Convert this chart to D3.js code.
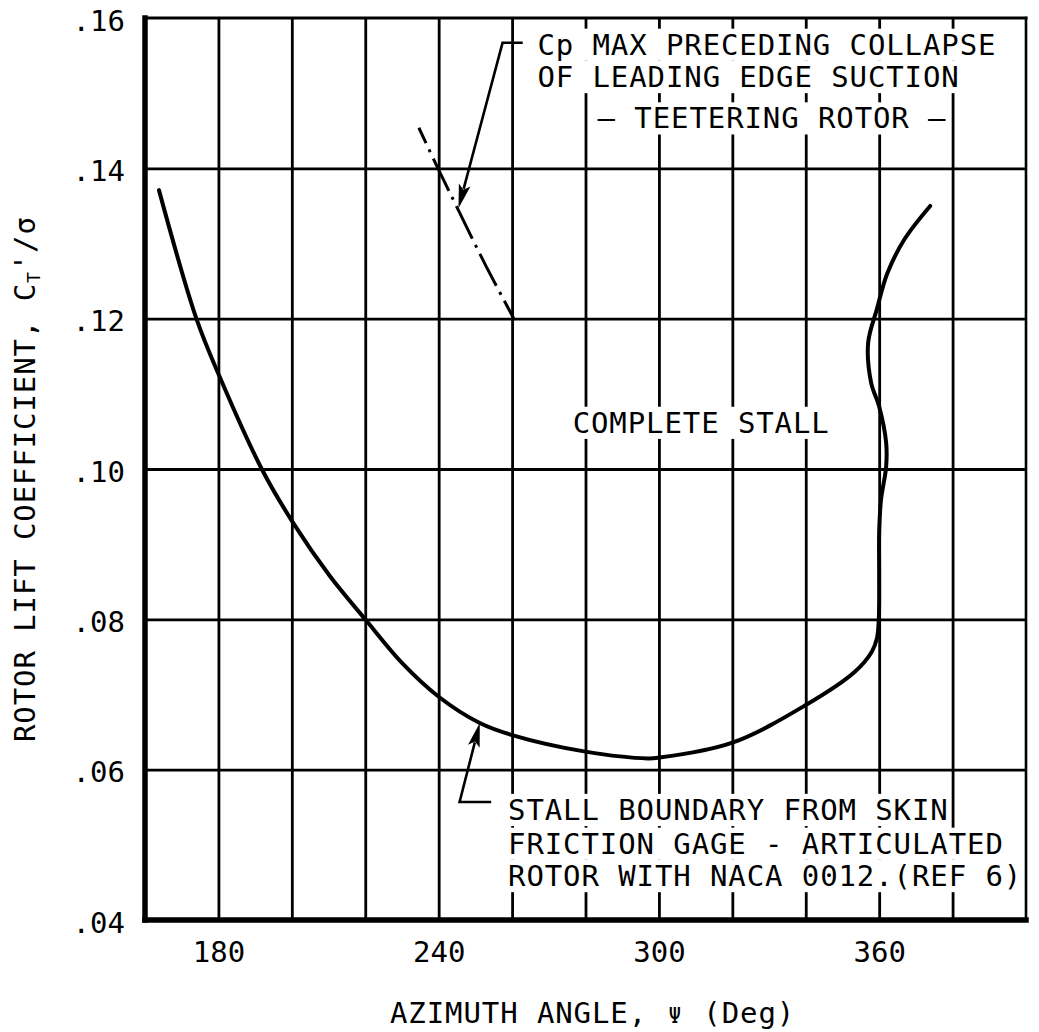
<!DOCTYPE html>
<html>
<head>
<meta charset="utf-8">
<script src="https://cdn.jsdelivr.net/npm/d3@7"></script>
<style>
  body { margin: 0; background: #fff; }
  svg text { font-family: "DejaVu Sans Mono", monospace; fill: #000; }
</style>
</head>
<body>
<svg id="chart" width="1039" height="1032"></svg>
<script>
// ---- data -------------------------------------------------------------
// Azimuth (deg): labelled ticks and grid lines
const azimuthTicks = [180, 240, 300, 360];
const azimuthGrid = [180, 200, 220, 240, 260, 280, 300, 320, 340, 360, 380];
// Rotor lift coefficient CT'/sigma: labelled ticks / grid lines
const liftTicks = [0.04, 0.06, 0.08, 0.10, 0.12, 0.14, 0.16];

// Stall boundary from skin friction gage, articulated rotor, NACA 0012 (ref 6)
const stallPsi = [163.8, 174.0, 180.4, 191.8, 200.4, 210.3, 220.0, 230.0, 240.0, 251.2, 260.0,
                  280.0, 297.0, 300.0, 320.0, 340.0, 353.3, 358.0, 359.4, 359.9, 360.0, 360.0,
                  360.5, 361.9, 361.9, 360.0, 357.8, 357.0, 359.4, 362.2, 366.8, 373.9];
const stallCt  = [0.1371, 0.1200, 0.1122, 0.1000, 0.0928, 0.0858, 0.0800, 0.0742, 0.0697, 0.0662, 0.0646,
                  0.0624, 0.0615, 0.0616, 0.0636, 0.0686, 0.0730, 0.0757, 0.0775, 0.0800, 0.0860, 0.0915,
                  0.0959, 0.1003, 0.1035, 0.1083, 0.1115, 0.1168, 0.1213, 0.1260, 0.1305, 0.1350];

// Cp max preceding collapse of leading edge suction, teetering rotor
const cpPsi = [234.6, 239.8, 245.3, 253.0, 260.7];
const cpCt  = [0.1454, 0.1400, 0.1345, 0.1269, 0.1198];

// Annotation leaders (psi, CT'/sigma): tail tick, elbow, arrow tip
const cpLeader    = [[262.9, 0.1567], [257.4, 0.1567], [245.4, 0.1347]];
const stallLeader = [[254.3, 0.0557], [245.7, 0.0557], [251.2, 0.0662]];

// Text notes: [psi, CT'/sigma at baseline, text]
const notes = [
  [266.9, 0.1551, "Cp MAX PRECEDING COLLAPSE"],
  [266.9, 0.1508, "OF LEADING EDGE SUCTION"],
  [283.3, 0.1453, "\u2013 TEETERING ROTOR \u2013"],
  [276.5, 0.1048, "COMPLETE STALL"],
  [258.9, 0.0533, "STALL BOUNDARY FROM SKIN"],
  [258.9, 0.0488, "FRICTION GAGE - ARTICULATED"],
  [258.9, 0.0445, "ROTOR WITH NACA 0012.(REF 6)"]
];

// ---- layout -----------------------------------------------------------
const FS = 29, LS = 0.9;
const svg = d3.select("#chart");
const x = d3.scaleLinear().domain([160, 400]).range([145, 1026]);
const y = d3.scaleLinear().domain([0.04, 0.16]).range([920, 18]);
const [x0, x1] = x.range();
const [y0, y1] = y.range();

// ---- grid -------------------------------------------------------------
const grid = svg.append("g");
grid.append("g")
  .attr("transform", `translate(0,${y0})`)
  .call(d3.axisBottom(x).tickValues(azimuthGrid).tickSize(-(y0 - y1)).tickFormat(""))
  .call(g => g.select(".domain").remove())
  .call(g => g.selectAll("line").attr("stroke", "#000").attr("stroke-width", 2.8));
grid.append("g")
  .attr("transform", `translate(${x0},0)`)
  .call(d3.axisLeft(y).tickValues(liftTicks.slice(1, -1)).tickSize(-(x1 - x0)).tickFormat(""))
  .call(g => g.select(".domain").remove())
  .call(g => g.selectAll("line").attr("stroke", "#000").attr("stroke-width", 2.8));

// frame: heavy left and bottom axes, lighter top and right
const frame = svg.append("g").attr("stroke", "#000").attr("stroke-linecap", "square");
frame.append("line").attr("x1", x0).attr("x2", x1).attr("y1", y1).attr("y2", y1).attr("stroke-width", 3);
frame.append("line").attr("x1", x1).attr("x2", x1).attr("y1", y1).attr("y2", y0).attr("stroke-width", 2.6);
frame.append("line").attr("x1", x0).attr("x2", x0).attr("y1", y1).attr("y2", y0).attr("stroke-width", 5.5);
frame.append("line").attr("x1", x0).attr("x2", x1).attr("y1", y0).attr("y2", y0).attr("stroke-width", 5.5);

// ---- note knock-outs and text ------------------------------------------
const knock = svg.append("g");
const noteG = svg.append("g");
notes.forEach(([p, c, s]) => {
  const t = noteG.append("text")
    .attr("x", x(p)).attr("y", y(c))
    .attr("font-size", FS).attr("letter-spacing", LS)
    .text(s);
  const bb = t.node().getBBox();
  knock.append("rect")
    .attr("x", bb.x - 5).attr("y", y(c) - 0.73 * FS - 5)
    .attr("width", bb.width + 6).attr("height", 0.73 * FS + 11)
    .attr("fill", "#fff");
});

// ---- tick labels ------------------------------------------------------
svg.append("g")
  .attr("transform", `translate(0,${y0})`)
  .call(d3.axisBottom(x).tickValues(azimuthTicks).tickSize(0).tickPadding(21).tickFormat(d3.format("d")))
  .call(g => g.select(".domain").remove())
  .call(g => g.selectAll("text").attr("font-size", FS).attr("font-family", null));
svg.append("g")
  .attr("transform", `translate(${x0},0)`)
  .call(d3.axisLeft(y).tickValues(liftTicks).tickSize(0).tickPadding(20)
        .tickFormat(d => d3.format(".2f")(d).replace(/^0/, "")))
  .call(g => g.select(".domain").remove())
  .call(g => g.selectAll("text").attr("font-size", FS).attr("font-family", null).attr("dy", "0.42em"));

// ---- axis titles --------------------------------------------------------
const xt = svg.append("text")
  .attr("x", 390).attr("y", 1023)
  .attr("font-size", FS).attr("letter-spacing", LS);
xt.append("tspan").text("AZIMUTH ANGLE, ");
xt.append("tspan").attr("font-size", 21).attr("dx", 3).text("\u03A8");
xt.append("tspan").attr("dx", 3).text(" (Deg)");

const yt = svg.append("text")
  .attr("transform", "translate(35,742) rotate(-90)")
  .attr("font-size", FS).attr("letter-spacing", LS);
yt.append("tspan").text("ROTOR LIFT COEFFICIENT, C");
yt.append("tspan").attr("font-size", 18).attr("dy", 5).text("T");
yt.append("tspan").attr("dy", -5).text("'/\u03C3");

// ---- curves -------------------------------------------------------------
const line = d3.line().x(d => x(d[0])).y(d => y(d[1])).curve(d3.curveCatmullRom.alpha(0.5));

svg.append("path")
  .datum(stallPsi.map((p, i) => [p, stallCt[i]]))
  .attr("d", line)
  .attr("fill", "none").attr("stroke", "#000").attr("stroke-width", 4)
  .attr("stroke-linejoin", "round").attr("stroke-linecap", "round");

svg.append("path")
  .datum(cpPsi.map((p, i) => [p, cpCt[i]]))
  .attr("d", line)
  .attr("fill", "none").attr("stroke", "#000").attr("stroke-width", 3)
  .attr("stroke-dasharray", "36,7,3,7").attr("stroke-dashoffset", 19);

// ---- leaders with filled arrowheads -------------------------------------
const straight = d3.line().x(d => x(d[0])).y(d => y(d[1]));
const HEAD_LEN = 24, HEAD_HALF = 6;
[cpLeader, stallLeader].forEach(pts => {
  const n = pts.length;
  const tip = [x(pts[n - 1][0]), y(pts[n - 1][1])];
  const from = [x(pts[n - 2][0]), y(pts[n - 2][1])];
  const len = Math.hypot(tip[0] - from[0], tip[1] - from[1]);
  const ux = (tip[0] - from[0]) / len, uy = (tip[1] - from[1]) / len;
  const bx = tip[0] - ux * HEAD_LEN, by = tip[1] - uy * HEAD_LEN;
  const nx = -uy, ny = ux;

  svg.append("path")
    .attr("d", straight(pts.slice(0, n - 1)) + `L${bx + ux * 4},${by + uy * 4}`)
    .attr("fill", "none").attr("stroke", "#000").attr("stroke-width", 2.6);

  svg.append("path")
    .attr("d", `M${tip[0]},${tip[1]}` +
               `L${bx + nx * HEAD_HALF},${by + ny * HEAD_HALF}` +
               `L${bx + ux * 5},${by + uy * 5}` +
               `L${bx - nx * HEAD_HALF},${by - ny * HEAD_HALF}Z`)
    .attr("fill", "#000");
});
</script>
</body>
</html>
